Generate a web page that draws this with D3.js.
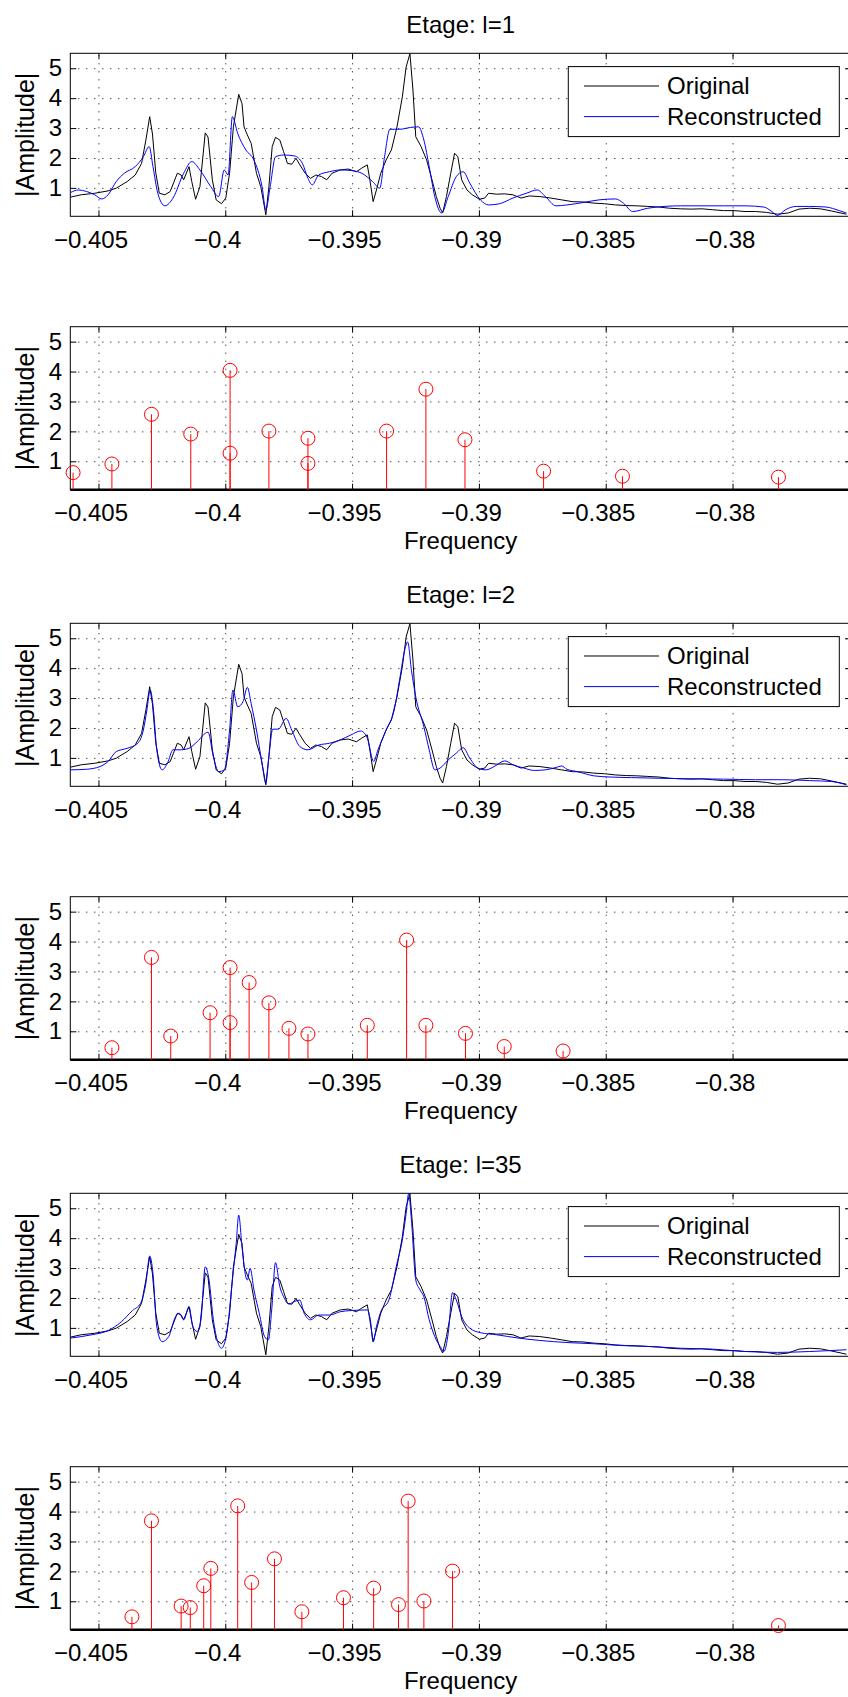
<!DOCTYPE html>
<html>
<head>
<meta charset="utf-8">
<script src="https://cdn.jsdelivr.net/npm/d3@7"></script>
<style>
  body { margin: 0; background: #fff; }
  text { font-family: 'Liberation Sans', Arial, Helvetica, sans-serif; font-size: 24px; fill: #000; }
</style>
</head>
<body>
<svg id="chart" width="848" height="1697"></svg>
<script>
// ---- data: [frequency, |amplitude|] ----
const xTicks = [-0.405, -0.4, -0.395, -0.39, -0.385, -0.38];
const yTicks = [1, 2, 3, 4, 5];
const stageTitles = ['Etage: l=1', 'Etage: l=2', 'Etage: l=35'];
const legendLabels = ['Original', 'Reconstructed'];

const original = [
  [-0.40611, 0.69], [-0.40568, 0.77], [-0.40515, 0.82], [-0.40462, 0.90], [-0.40430, 0.99],
  [-0.40387, 1.21], [-0.40355, 1.43], [-0.40330, 1.82], [-0.40313, 2.60], [-0.40298, 3.38],
  [-0.40287, 2.80], [-0.40274, 1.50], [-0.40260, 0.82], [-0.40238, 0.77], [-0.40217, 0.88],
  [-0.40189, 1.49], [-0.40174, 1.43], [-0.40164, 1.27], [-0.40143, 1.71], [-0.40132, 1.21],
  [-0.40117, 0.62], [-0.40100, 1.04], [-0.40079, 2.84], [-0.40068, 2.70], [-0.40051, 1.27],
  [-0.40036, 0.60], [-0.40015, 0.47], [-0.39998, 0.66], [-0.39983, 1.49], [-0.39968, 3.04],
  [-0.39947, 4.13], [-0.39934, 3.82], [-0.39926, 3.04], [-0.39913, 2.77], [-0.39898, 2.49],
  [-0.39877, 1.49], [-0.39860, 1.04], [-0.39840, 0.10], [-0.39828, 1.04], [-0.39815, 2.38],
  [-0.39802, 2.69], [-0.39785, 2.60], [-0.39770, 2.21], [-0.39755, 1.82], [-0.39738, 1.79],
  [-0.39721, 1.99], [-0.39706, 1.77], [-0.39685, 1.49], [-0.39664, 1.32], [-0.39643, 1.43],
  [-0.39621, 1.38], [-0.39600, 1.27], [-0.39579, 1.49], [-0.39547, 1.60], [-0.39515, 1.63],
  [-0.39483, 1.54], [-0.39462, 1.66], [-0.39440, 1.77], [-0.39430, 1.27], [-0.39417, 0.54],
  [-0.39404, 0.93], [-0.39387, 1.49], [-0.39366, 1.93], [-0.39345, 2.27], [-0.39323, 3.04],
  [-0.39302, 4.04], [-0.39287, 5.04], [-0.39272, 5.49], [-0.39260, 4.27], [-0.39249, 2.71],
  [-0.39228, 2.38], [-0.39206, 1.93], [-0.39185, 1.27], [-0.39168, 0.71], [-0.39153, 0.32],
  [-0.39143, 0.16], [-0.39128, 0.71], [-0.39111, 1.49], [-0.39096, 2.16], [-0.39083, 2.04],
  [-0.39068, 1.27], [-0.39047, 0.93], [-0.39026, 0.77], [-0.38998, 0.62], [-0.38977, 0.66],
  [-0.38962, 0.82], [-0.38930, 0.79], [-0.38898, 0.80], [-0.38866, 0.77], [-0.38834, 0.66],
  [-0.38802, 0.73], [-0.38760, 0.71], [-0.38717, 0.66], [-0.38674, 0.60], [-0.38632, 0.54],
  [-0.38589, 0.53], [-0.38547, 0.49], [-0.38504, 0.47], [-0.38462, 0.43], [-0.38419, 0.41],
  [-0.38377, 0.40], [-0.38334, 0.38], [-0.38291, 0.36], [-0.38249, 0.32], [-0.38206, 0.30],
  [-0.38164, 0.29], [-0.38121, 0.30], [-0.38079, 0.27], [-0.38036, 0.24], [-0.37994, 0.24],
  [-0.37951, 0.21], [-0.37909, 0.21], [-0.37866, 0.18], [-0.37823, 0.12], [-0.37781, 0.16],
  [-0.37738, 0.29], [-0.37696, 0.32], [-0.37653, 0.30], [-0.37611, 0.23], [-0.37551, 0.12]
];

const reconL1 = [
  [-0.40611, 0.84], [-0.40579, 0.93], [-0.40547, 0.88], [-0.40515, 0.77], [-0.40487, 0.63],
  [-0.40462, 0.77], [-0.40430, 1.21], [-0.40398, 1.49], [-0.40355, 1.71], [-0.40323, 2.04],
  [-0.40300, 2.38], [-0.40285, 1.71], [-0.40266, 0.82], [-0.40238, 0.40], [-0.40206, 0.66],
  [-0.40164, 1.49], [-0.40132, 1.88], [-0.40100, 1.60], [-0.40057, 1.04], [-0.40026, 0.71],
  [-0.40004, 1.60], [-0.39989, 1.43], [-0.39972, 3.38], [-0.39951, 2.82], [-0.39919, 2.27],
  [-0.39887, 1.93], [-0.39855, 1.04], [-0.39840, 0.27], [-0.39823, 1.04], [-0.39802, 2.04],
  [-0.39770, 2.10], [-0.39728, 2.07], [-0.39696, 1.82], [-0.39674, 1.32], [-0.39657, 1.10],
  [-0.39632, 1.43], [-0.39589, 1.54], [-0.39547, 1.60], [-0.39504, 1.58], [-0.39462, 1.49],
  [-0.39419, 1.21], [-0.39391, 0.99], [-0.39372, 2.04], [-0.39351, 2.96], [-0.39313, 2.96],
  [-0.39270, 3.02], [-0.39238, 3.04], [-0.39217, 2.60], [-0.39196, 1.71], [-0.39174, 0.71],
  [-0.39147, 0.16], [-0.39121, 0.71], [-0.39089, 1.38], [-0.39062, 1.54], [-0.39036, 1.16],
  [-0.38994, 0.60], [-0.38962, 0.43], [-0.38919, 0.47], [-0.38866, 0.66], [-0.38813, 0.82],
  [-0.38770, 0.93], [-0.38738, 0.71], [-0.38696, 0.40], [-0.38653, 0.43], [-0.38589, 0.51],
  [-0.38526, 0.60], [-0.38462, 0.63], [-0.38430, 0.49], [-0.38394, 0.21], [-0.38334, 0.32],
  [-0.38270, 0.38], [-0.38206, 0.40], [-0.38121, 0.40], [-0.38036, 0.40], [-0.37951, 0.40],
  [-0.37877, 0.36], [-0.37845, 0.21], [-0.37823, 0.08], [-0.37791, 0.27], [-0.37749, 0.38],
  [-0.37696, 0.38], [-0.37632, 0.36], [-0.37579, 0.24], [-0.37551, 0.16]
];

const reconL2 = [
  [-0.40611, 0.60], [-0.40547, 0.62], [-0.40494, 0.71], [-0.40462, 0.88], [-0.40430, 1.21],
  [-0.40387, 1.32], [-0.40345, 1.49], [-0.40323, 1.93], [-0.40309, 2.60], [-0.40296, 3.27],
  [-0.40283, 2.60], [-0.40270, 1.27], [-0.40249, 0.60], [-0.40228, 0.82], [-0.40206, 1.27],
  [-0.40174, 1.27], [-0.40143, 1.32], [-0.40111, 1.54], [-0.40068, 1.86], [-0.40047, 1.04],
  [-0.40026, 0.54], [-0.40004, 0.60], [-0.39983, 1.93], [-0.39970, 3.27], [-0.39951, 2.71],
  [-0.39930, 2.88], [-0.39913, 3.36], [-0.39898, 2.82], [-0.39877, 1.93], [-0.39855, 0.82],
  [-0.39840, 0.16], [-0.39828, 1.04], [-0.39813, 1.96], [-0.39791, 1.96], [-0.39760, 2.32],
  [-0.39738, 1.93], [-0.39706, 1.38], [-0.39674, 1.27], [-0.39632, 1.43], [-0.39589, 1.49],
  [-0.39547, 1.60], [-0.39504, 1.77], [-0.39466, 1.90], [-0.39440, 1.66], [-0.39415, 0.88],
  [-0.39398, 1.27], [-0.39366, 1.93], [-0.39334, 2.60], [-0.39313, 3.60], [-0.39291, 4.66],
  [-0.39281, 4.88], [-0.39266, 3.93], [-0.39249, 3.04], [-0.39217, 2.04], [-0.39196, 1.27],
  [-0.39174, 0.60], [-0.39153, 0.66], [-0.39121, 0.93], [-0.39089, 1.16], [-0.39062, 1.34],
  [-0.39036, 0.99], [-0.39004, 0.66], [-0.38972, 0.60], [-0.38940, 0.71], [-0.38898, 0.90],
  [-0.38866, 0.77], [-0.38823, 0.66], [-0.38781, 0.58], [-0.38738, 0.60], [-0.38696, 0.68],
  [-0.38674, 0.73], [-0.38653, 0.62], [-0.38611, 0.54], [-0.38547, 0.40], [-0.38483, 0.36],
  [-0.38398, 0.34], [-0.38291, 0.32], [-0.38164, 0.30], [-0.38036, 0.29], [-0.37909, 0.27],
  [-0.37802, 0.27], [-0.37696, 0.24], [-0.37611, 0.21], [-0.37551, 0.10]
];

const reconL35 = [
  [-0.40611, 0.66], [-0.40526, 0.77], [-0.40462, 0.91], [-0.40409, 1.21], [-0.40366, 1.58],
  [-0.40334, 1.82], [-0.40313, 2.49], [-0.40298, 3.40], [-0.40285, 2.82], [-0.40270, 1.04],
  [-0.40249, 0.54], [-0.40223, 0.71], [-0.40196, 1.38], [-0.40181, 1.49], [-0.40164, 1.27],
  [-0.40143, 1.71], [-0.40128, 1.04], [-0.40111, 0.88], [-0.40096, 1.27], [-0.40079, 3.04],
  [-0.40064, 2.60], [-0.40047, 1.27], [-0.40030, 0.54], [-0.40015, 0.32], [-0.39994, 0.82],
  [-0.39972, 2.60], [-0.39957, 3.82], [-0.39947, 4.77], [-0.39934, 3.71], [-0.39919, 2.71],
  [-0.39913, 2.60], [-0.39902, 2.99], [-0.39887, 2.27], [-0.39866, 1.49], [-0.39845, 0.71],
  [-0.39830, 0.60], [-0.39817, 1.60], [-0.39802, 3.18], [-0.39785, 2.38], [-0.39770, 2.04],
  [-0.39749, 1.80], [-0.39728, 1.88], [-0.39706, 1.93], [-0.39689, 1.49], [-0.39664, 1.27],
  [-0.39632, 1.43], [-0.39589, 1.43], [-0.39547, 1.54], [-0.39504, 1.58], [-0.39440, 1.60],
  [-0.39428, 1.27], [-0.39417, 0.54], [-0.39404, 1.04], [-0.39387, 1.54], [-0.39355, 1.93],
  [-0.39323, 3.16], [-0.39302, 3.93], [-0.39287, 4.82], [-0.39277, 5.49], [-0.39266, 4.60],
  [-0.39249, 2.60], [-0.39232, 2.27], [-0.39217, 2.04], [-0.39196, 1.27], [-0.39174, 0.71],
  [-0.39153, 0.38], [-0.39138, 0.21], [-0.39121, 0.82], [-0.39104, 2.18], [-0.39089, 1.93],
  [-0.39068, 1.38], [-0.39036, 0.99], [-0.38994, 0.84], [-0.38930, 0.77], [-0.38845, 0.66],
  [-0.38760, 0.58], [-0.38653, 0.51], [-0.38547, 0.47], [-0.38440, 0.41], [-0.38334, 0.38],
  [-0.38206, 0.32], [-0.38079, 0.29], [-0.37951, 0.21], [-0.37823, 0.18], [-0.37696, 0.21],
  [-0.37551, 0.27]
];

// selected atoms (stem plots)
const atomsL1 = [
  [-0.40600, 0.62], [-0.40447, 0.91], [-0.40291, 2.57], [-0.40136, 1.91], [-0.39981, 4.04],
  [-0.39981, 1.27], [-0.39828, 2.01], [-0.39674, 1.77], [-0.39674, 0.93], [-0.39364, 2.01],
  [-0.39209, 3.41], [-0.39055, 1.72], [-0.38745, 0.67], [-0.38434, 0.50], [-0.37819, 0.47]
];
const atomsL2 = [
  [-0.40447, 0.45], [-0.40291, 3.47], [-0.40215, 0.84], [-0.40060, 1.62], [-0.39981, 3.13],
  [-0.39981, 1.29], [-0.39906, 2.63], [-0.39828, 1.95], [-0.39749, 1.10], [-0.39674, 0.91],
  [-0.39440, 1.20], [-0.39285, 4.05], [-0.39209, 1.20], [-0.39053, 0.93], [-0.38900, 0.49],
  [-0.38668, 0.34]
];
const atomsL35 = [
  [-0.40368, 0.48], [-0.40291, 3.69], [-0.40174, 0.84], [-0.40138, 0.79], [-0.40085, 1.52],
  [-0.40057, 2.10], [-0.39951, 4.19], [-0.39896, 1.63], [-0.39806, 2.42], [-0.39698, 0.65],
  [-0.39534, 1.12], [-0.39415, 1.44], [-0.39317, 0.89], [-0.39279, 4.35], [-0.39217, 1.01],
  [-0.39104, 2.01], [-0.37819, 0.19]
];

const stages = [
  {title: stageTitles[0], recon: reconL1, atoms: atomsL1},
  {title: stageTitles[1], recon: reconL2, atoms: atomsL2},
  {title: stageTitles[2], recon: reconL35, atoms: atomsL35},
];

// ---- layout ----
const left = 70.3;
const right = 851;
const panelH = 163;
const lineTops = [53.3, 623.3, 1193.3];
const stemTops = [326.7, 896.7, 1466.7];
const tickLen = 6;

const svg = d3.select('#chart');

const x = d3.scaleLinear().domain([-0.40611, -0.37533]).range([left, right]);
const y = d3.scaleLinear().domain([0.05, 5.5]).range([panelH, 0]);

svg.append('defs')
	.append('clipPath')
	.attr('id', 'plot-clip')
	.append('rect')
	.attr('x', left)
	.attr('y', 0)
	.attr('width', right - left)
	.attr('height', panelH);

/**
 * Grid, ticks, labels and box of one axes
 */
function drawFrame(g, thickBottom) {
	const w = right - left;

	// dotted grid
	g.append('g')
		.call(d3.axisBottom(x).tickValues(xTicks).tickSize(-panelH).tickFormat(''))
		.attr('transform', `translate(0,${panelH})`)
		.call(s => s.select('.domain').remove());
	g.append('g')
		.call(d3.axisLeft(y).tickValues(yTicks).tickSize(-w).tickFormat(''))
		.attr('transform', `translate(${left},0)`)
		.call(s => s.select('.domain').remove());
	g.selectAll('.tick line')
		.attr('stroke', '#000')
		.attr('stroke-dasharray', '1,7');

	// inward ticks on four sides
	const bottom = g.append('g')
		.attr('transform', `translate(0,${panelH})`)
		.call(d3.axisBottom(x).tickValues(xTicks).tickSize(-tickLen).tickPadding(14.5).tickFormat(d3.format('')));
	bottom.selectAll('text').attr('dx', -8);
	g.append('g')
		.call(d3.axisTop(x).tickValues(xTicks).tickSize(-tickLen).tickFormat(''));
	g.append('g')
		.attr('transform', `translate(${left},0)`)
		.call(d3.axisLeft(y).tickValues(yTicks).tickSize(-tickLen).tickPadding(8.3).tickFormat(d3.format('d')));
	g.append('g')
		.attr('transform', `translate(${right},0)`)
		.call(d3.axisRight(y).tickValues(yTicks).tickSize(-tickLen).tickFormat(''));

	g.selectAll('.domain').remove();
	g.selectAll('.tick text').attr('font-size', 24).attr('font-family', null);

	g.append('rect')
		.attr('x', left)
		.attr('y', 0)
		.attr('width', w)
		.attr('height', panelH)
		.attr('fill', 'none')
		.attr('stroke', '#000')
		.attr('stroke-width', 1);

	if (thickBottom) {
		g.append('line')
			.attr('x1', left)
			.attr('x2', right)
			.attr('y1', panelH)
			.attr('y2', panelH)
			.attr('stroke', '#000')
			.attr('stroke-width', 2.5);
	}

	g.append('text')
		.attr('transform', `translate(33.5,${panelH / 2}) rotate(-90)`)
		.attr('text-anchor', 'middle')
		.style('font-size', '25px')
		.text('|Amplitude|');
}

const lineRaw = d3.line().x(d => x(d[0])).y(d => y(d[1]));
// the reconstruction is a smooth sum of atoms
const lineSmooth = d3.line().x(d => x(d[0])).y(d => y(d[1])).curve(d3.curveMonotoneX);

stages.forEach((stage, i) => {
	// comparison panel
	const gl = svg.append('g').attr('transform', `translate(0,${lineTops[i]})`);
	drawFrame(gl, false);

	gl.append('text')
		.attr('x', (left + right) / 2)
		.attr('y', -20)
		.attr('text-anchor', 'middle')
		.text(stage.title);

	const lines = gl.append('g').attr('clip-path', 'url(#plot-clip)');
	lines.append('path')
		.datum(original)
		.attr('d', lineRaw)
		.attr('fill', 'none')
		.attr('stroke', '#000')
		.attr('stroke-width', 1);
	lines.append('path')
		.datum(stage.recon)
		.attr('d', lineSmooth)
		.attr('fill', 'none')
		.attr('stroke', '#0000ff')
		.attr('stroke-width', 1);

	// legend
	const lg = gl.append('g').attr('transform', 'translate(568.3,13.3)');
	lg.append('rect')
		.attr('width', 271)
		.attr('height', 70)
		.attr('fill', '#fff')
		.attr('stroke', '#000')
		.attr('stroke-width', 1);
	const colors = ['#000', '#0000ff'];
	legendLabels.forEach((label, k) => {
		const ly = 19.4 + k * 30.6;
		lg.append('line')
			.attr('x1', 15.7)
			.attr('x2', 90.7)
			.attr('y1', ly)
			.attr('y2', ly)
			.attr('stroke', colors[k])
			.attr('stroke-width', 1);
		lg.append('text')
			.attr('x', 98.7)
			.attr('y', ly)
			.attr('dy', '0.35em')
			.text(label);
	});

	// atoms panel
	const gs = svg.append('g').attr('transform', `translate(0,${stemTops[i]})`);
	drawFrame(gs, true);

	const stems = gs.append('g');
	stems.selectAll('line.stem')
		.data(stage.atoms)
		.join('line')
		.attr('class', 'stem')
		.attr('x1', d => x(d[0]))
		.attr('x2', d => x(d[0]))
		.attr('y1', panelH)
		.attr('y2', d => y(d[1]))
		.attr('stroke', '#ff0000')
		.attr('stroke-width', 1);
	stems.selectAll('circle')
		.data(stage.atoms)
		.join('circle')
		.attr('cx', d => x(d[0]))
		.attr('cy', d => y(d[1]))
		.attr('r', 7)
		.attr('fill', 'none')
		.attr('stroke', '#ff0000')
		.attr('stroke-width', 1);

	gs.append('text')
		.attr('x', (left + right) / 2)
		.attr('y', panelH + 59)
		.attr('text-anchor', 'middle')
		.text('Frequency');
});
</script>
</body>
</html>
